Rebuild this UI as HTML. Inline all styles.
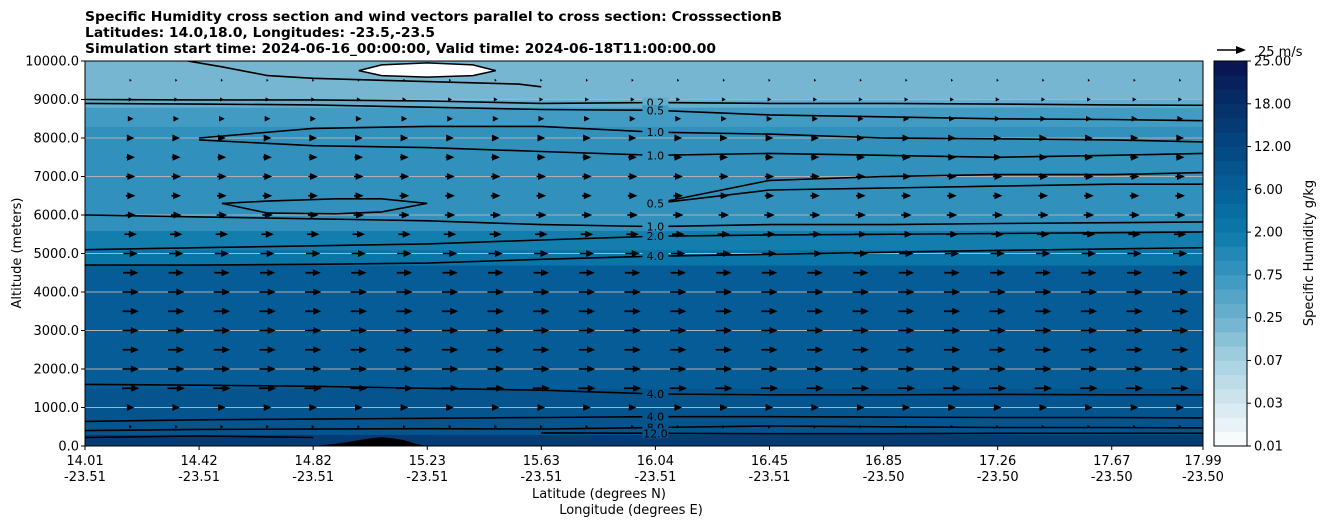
<!DOCTYPE html>
<html><head><meta charset="utf-8"><style>
body{margin:0;background:#fff}
svg{display:block;font-family:"DejaVu Sans","Liberation Sans",sans-serif}
</style></head><body>
<svg id="chart" width="1326" height="526" viewBox="0 0 1326 526" xmlns="http://www.w3.org/2000/svg">
<g font-weight="bold" font-size="13">
<text x="85" y="21" textLength="697" lengthAdjust="spacingAndGlyphs">Specific Humidity cross section and wind vectors parallel to cross section: CrosssectionB</text>
<text x="85" y="37" textLength="350" lengthAdjust="spacingAndGlyphs">Latitudes: 14.0,18.0, Longitudes: -23.5,-23.5</text>
<text x="85" y="53" textLength="631" lengthAdjust="spacingAndGlyphs">Simulation start time: 2024-06-16_00:00:00, Valid time: 2024-06-18T11:00:00.00</text>
</g>
<defs><clipPath id="plotclip"><rect x="85" y="61" width="1118" height="385"/></clipPath></defs>
<g id="plot" clip-path="url(#plotclip)"></g>
<g id="axes"></g>
<g id="cbar"></g>
<text x="0" y="0" transform="translate(21,253) rotate(-90)" text-anchor="middle" font-size="13">Altitude (meters)</text>
<text x="599" y="498" text-anchor="middle" font-size="13">Latitude (degrees N)</text>
<text x="631" y="514" text-anchor="middle" font-size="13">Longitude (degrees E)</text>
<text x="0" y="0" transform="translate(1313,253) rotate(-90)" text-anchor="middle" font-size="13">Specific Humidity g/kg</text>
</svg>
<script>
// ---- data ----
const latLabels = ["14.01","14.42","14.82","15.23","15.63","16.04","16.45","16.85","17.26","17.67","17.99"];
const lonLabels = ["-23.51","-23.51","-23.51","-23.51","-23.51","-23.51","-23.51","-23.50","-23.50","-23.50","-23.50"];
const tickIdx = [0,10,20,30,40,50,60,70,80,90,98];
const altTicks = [0,1000,2000,3000,4000,5000,6000,7000,8000,9000,10000];
const cbTicks = [0.01,0.03,0.07,0.25,0.75,2.00,6.00,12.00,18.00,25.00];
const cbColors = ["#ffffff","#d3e7ef","#a6d1e0","#6cb1ce","#3a96bf","#0b79aa","#05609a","#044781","#062f68","#08124f"];
const layerBottom = [0,300,1500,4700,5100,5600,6000,7000,7800,8300,8800,9000];
const layerTop    = [300,1500,4700,5100,5600,6000,7000,7800,8300,8800,9000,10000];
const layerQ      = [15,8.0,6.5,3.2,1.7,1.1,0.8,0.9,1.1,0.6,0.35,0.22];
const contourLevels = ["0.2","0.5","1.0","1.0","0.5","0.5","1.0","2.0","4.0","4.0","4.0","8.0","12.0"];
const contourAlts = [
 [9000,8990,8990,8960,8900,8920,8900,8900,8880,8860,8850],
 [8900,8880,8860,8800,8740,8720,8600,8550,8500,8480,8450],
 [null,8000,8250,8300,8300,8150,8100,8000,7980,7950,7900],
 [null,7950,7800,7750,7650,7550,7600,7550,7500,7550,7600],
 [null,null,null,null,null,6300,6900,7000,7050,7050,7100],
 [null,null,null,null,null,6300,6650,6700,6750,6800,6800],
 [6000,5950,5900,5850,5750,5700,5750,5750,5780,5800,5820],
 [5100,5150,5200,5250,5350,5450,5480,5500,5520,5540,5560],
 [4700,4700,4720,4750,4850,4930,4980,5030,5080,5120,5150],
 [1600,1580,1550,1500,1450,1350,1330,1330,1340,1330,1330],
 [640,680,700,720,740,760,760,750,740,740,730],
 [400,430,440,450,440,480,520,500,480,480,470],
 [220,260,220,null,340,330,320,320,330,330,330]
];
const bubbleIdx = [12,16,22,26,30,26,22,16,12];
const bubbleAlt = [6300,6360,6420,6420,6300,6080,6030,6050,6300];
const top01Idx = [9,12,16,20,26,32,38,40];
const top01Alt = [10000,9850,9620,9550,9500,9450,9400,9330];
const whiteIdx = [24,26,30,34,36,34,30,26,24];
const whiteAlt = [9750,9900,9950,9900,9750,9620,9580,9620,9750];
const terrainIdx = [20,22,24,25,26,27,28,29,30];
const terrainAlt = [0,60,150,200,230,200,150,60,0];
const windRowsAlt = [500,1000,1500,2000,2500,3000,3500,4000,4500,5000,5500,6000,6500,7000,7500,8000,8500,9000,9500];
const windSpeed   = [3,8,18,17,17,17,17,17,16,15,13,11,10,10,9,8,6,4,1];
const windCols = [4,8,12,16,20,24,28,32,36,40,44,48,52,56,60,64,68,72,76,80,84,88,92,96];

// ---- scales ----
const X0=85,X1=1203,Y0=446,Y1=61,NI=98;
const xs = i => X0 + i*(X1-X0)/NI;
const ys = a => Y0 - a*(Y0-Y1)/10000;
const NS="http://www.w3.org/2000/svg";
function mk(tag,attrs,parent){const e=document.createElementNS(NS,tag);for(const k in attrs)e.setAttribute(k,attrs[k]);parent.appendChild(e);return e;}
function hex2rgb(h){return [1,3,5].map(i=>parseInt(h.substr(i,2),16));}
function qPos(q){
  if(q<=cbTicks[0])return 0; for(let i=0;i<cbTicks.length-1;i++){if(q<=cbTicks[i+1])return i+(q-cbTicks[i])/(cbTicks[i+1]-cbTicks[i]);} return 9;}
function colorAt(p){const i=Math.min(8,Math.floor(p)),f=p-i;const a=hex2rgb(cbColors[i]),b=hex2rgb(cbColors[i+1]);return "rgb("+a.map((v,k)=>Math.round(v+(b[k]-v)*f)).join(",")+")";}
function bandColor(q){const p=qPos(q);const band=Math.min(26,Math.floor(p*3));return colorAt((band+0.5)/3);}
function qAt(a){for(let k=0;k<layerQ.length;k++){if(a>=layerBottom[k]&&a<layerTop[k])return layerQ[k];}return layerQ[layerQ.length-1];}

const plot=document.getElementById('plot');
for(let k=0;k<layerQ.length;k++){
  const r=mk('rect',{x:X0,y:ys(layerTop[k]),width:X1-X0,height:ys(layerBottom[k])-ys(layerTop[k])+0.5,fill:bandColor(layerQ[k])},plot);
  
  
}
let wp=mk('polygon',{points:whiteIdx.map((v,i)=>xs(v)+","+ys(whiteAlt[i])).join(" "),fill:"#fff",stroke:"#000","stroke-width":1.5},plot);


for(const a of altTicks){const g=mk('line',{x1:X0,x2:X1,y1:ys(a),y2:ys(a),stroke:"#b0b0b0","stroke-width":1},plot);
 
 }
function pathFrom(idx,alts){let d="",pen=false;idx.forEach((v,i)=>{if(alts[i]==null){pen=false;return;}d+=(pen?"L":"M")+xs(v).toFixed(1)+","+ys(alts[i]).toFixed(1);pen=true;});return d;}
contourAlts.forEach((alts,c)=>{
  const p=mk('path',{d:pathFrom(tickIdx,alts),fill:"none",stroke:"#000","stroke-width":1.6},plot);
  
  
  const li=5; if(alts[li]!=null){
    const bg=mk('rect',{x:xs(50)-13,y:ys(alts[li])-5,width:26,height:10,fill:bandColor(qAt(alts[li]))},plot);
    
    
    const t=mk('text',{x:xs(50),y:ys(alts[li])+4,"text-anchor":"middle","font-size":11},plot);t.textContent=contourLevels[c];
    
    
  }
});
let bp=mk('path',{d:pathFrom(bubbleIdx,bubbleAlt),fill:"none",stroke:"#000","stroke-width":1.6},plot);


let tp=mk('path',{d:pathFrom(top01Idx,top01Alt),fill:"none",stroke:"#000","stroke-width":1.6},plot);


let tr=mk('polygon',{points:terrainIdx.map((v,i)=>xs(v)+","+ys(terrainAlt[i])).join(" "),fill:"#000"},plot);


const pxPerMs=24/25;
windRowsAlt.forEach((a,r)=>{windCols.forEach(c=>{
  const L=Math.max(2,windSpeed[r]*pxPerMs),x=xs(c)-L/2,y=ys(a);
  const hl=Math.min(L,8),hw=Math.min(3.5,L*0.35+0.8);
  const pts=[[x,y-0.8],[x+L-hl,y-0.8],[x+L-hl,y-hw],[x+L,y],[x+L-hl,y+hw],[x+L-hl,y+0.8],[x,y+0.8]];
  const ar=mk('polygon',{points:pts.map(p=>p[0].toFixed(1)+","+p[1].toFixed(1)).join(" "),fill:"#000"},plot);
  
  
});});
const axes=document.getElementById('axes');
let fr=mk('rect',{x:X0,y:Y1,width:X1-X0,height:Y0-Y1,fill:"none",stroke:"#000","stroke-width":1},axes);


altTicks.forEach(a=>{
  const tk=mk('line',{x1:X0-4,x2:X0,y1:ys(a),y2:ys(a),stroke:"#000"},axes);
  
  
  const t=mk('text',{x:X0-6,y:ys(a)+4.5,"text-anchor":"end","font-size":13},axes);t.textContent=a.toFixed(1);
  
  
});
tickIdx.forEach((v,i)=>{
  const tk=mk('line',{x1:xs(v),x2:xs(v),y1:Y0,y2:Y0+4,stroke:"#000"},axes);
  
  
  const t=mk('text',{x:xs(v),y:465,"text-anchor":"middle","font-size":13},axes);t.textContent=latLabels[i];
  
  
  const t2=mk('text',{x:xs(v),y:481,"text-anchor":"middle","font-size":13},axes);t2.textContent=lonLabels[i];
  
  
});
let qk=mk('polygon',{points:"1217,49.2 1236,49.2 1236,46 1246,50 1236,54 1236,50.8 1217,50.8",fill:"#000"},axes);


let qt=mk('text',{x:1258,y:56,"font-size":13},axes);qt.textContent="25 m/s";


const cb=document.getElementById('cbar');
const CX=1214,CW=33,CT=61,CB=446,NB=27,bh=(CB-CT)/NB;
for(let b=0;b<NB;b++){
  const r=mk('rect',{x:CX,y:CB-(b+1)*bh,width:CW,height:bh+0.4,fill:colorAt((b+0.5)/3)},cb);
  
  
}
let cf=mk('rect',{x:CX,y:CT,width:CW,height:CB-CT,fill:"none",stroke:"#000"},cb);


cbTicks.forEach((v,i)=>{
  const y=CB-i*3*bh;
  const tk=mk('line',{x1:CX+CW,x2:CX+CW+4,y1:y,y2:y,stroke:"#000"},cb);
  
  
  const t=mk('text',{x:CX+CW+7,y:y+4.5,"font-size":13},cb);t.textContent=v.toFixed(2);
  
  
});
</script>
</body></html>
